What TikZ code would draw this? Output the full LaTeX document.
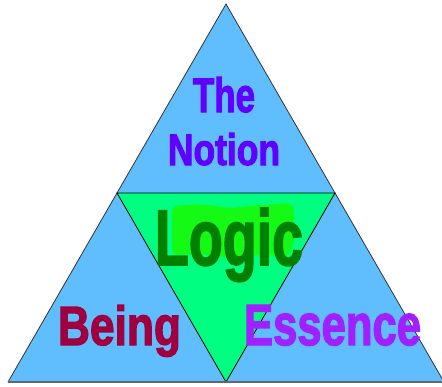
\documentclass[tikz,border=0pt]{standalone}
\usepackage{fontspec}
\setmainfont{Liberation Sans}[BoldFeatures={FakeBold=2.5}]
\usepackage{graphicx}
\definecolor{skyblue}{RGB}{96,190,255}
\definecolor{mint}{RGB}{0,255,128}
\definecolor{hilite}{RGB}{20,250,20}
\definecolor{logicgreen}{RGB}{0,128,0}
\definecolor{notionviolet}{RGB}{96,0,255}
\definecolor{beingred}{RGB}{160,0,64}
\definecolor{essencepurple}{RGB}{160,32,255}
\begin{document}
\begin{tikzpicture}[x=1pt,y=-1pt,
  word/.style={inner sep=0pt,anchor=base,font=\bfseries}]
\useasboundingbox (0,0) rectangle (442,386);
\coordinate (apex) at (226,4);
\coordinate (bl) at (8,382);
\coordinate (br) at (444,382);
\coordinate (ml) at (117,193);
\coordinate (mr) at (335,193);
\coordinate (bm) at (226,382);
\fill[skyblue] (apex) -- (bl) -- (br) -- cycle;
\fill[mint] (ml) -- (mr) -- (bm) -- cycle;
\draw[black!80,line width=0.8pt] (bl) -- (apex) -- (br);
\draw[black,line width=0.8pt] (ml) -- (mr) -- (bm) -- cycle;
\draw[gray!80!black,line width=2pt] (bl) -- (br);
\fill[hilite,rounded corners=6pt] (172,206) -- (200,204) -- (230,208) -- (260,205) -- (293,203)
  -- (295,235) -- (290,256) -- (260,255) -- (230,258) -- (200,254) -- (172,255) -- cycle;
\node[word,text=notionviolet] (the) at (224,112) {\resizebox{62pt}{35pt}{The}};
\node[word,text=notionviolet] (notion) at (224,165) {\resizebox{112pt}{32pt}{Notion}};
\node[word,text=logicgreen] (logic) at (229,265) {\resizebox{148pt}{57pt}{Logic}};
\node[word,text=beingred] (being) at (119.5,345) {\resizebox{123pt}{40pt}{Being}};
\node[word,text=essencepurple] (essence) at (332.5,345) {\resizebox{177pt}{40pt}{Essence}};
\end{tikzpicture}
\end{document}
